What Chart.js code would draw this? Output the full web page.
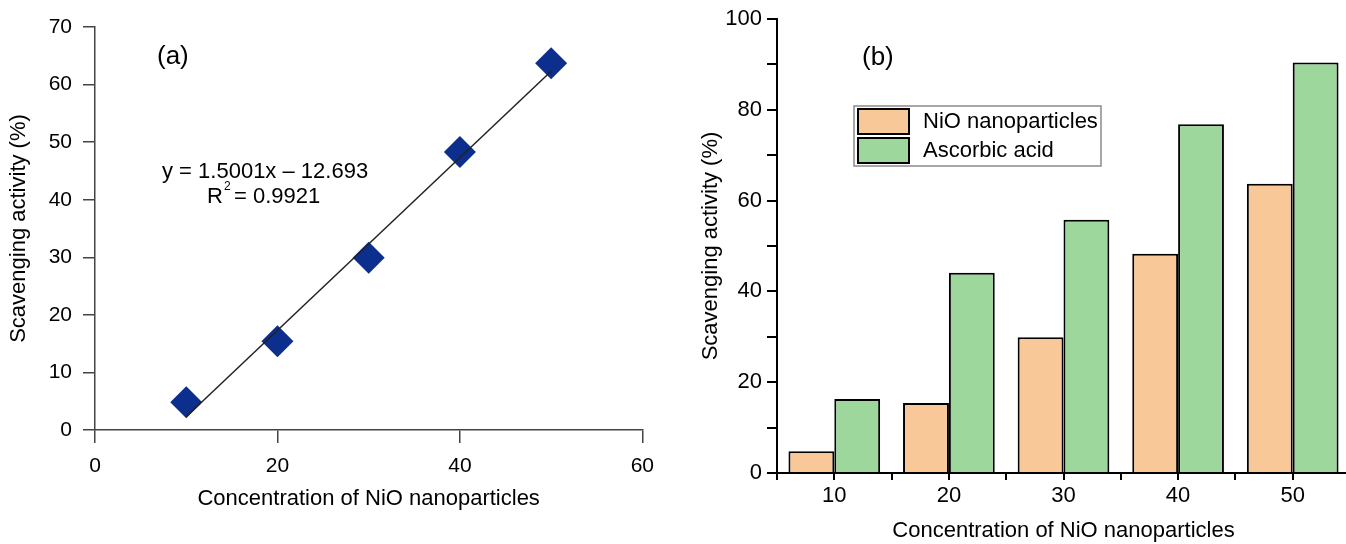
<!DOCTYPE html>
<html>
<head>
<meta charset="utf-8">
<script src="https://cdn.jsdelivr.net/npm/chart.js@4.4.1/dist/chart.umd.min.js"></script>
<style>
  body { margin: 0; background: #fff; overflow: hidden; }
  canvas { position: absolute; top: 0; }
  #chartA { left: 0; }
  #chartB { left: 665px; }
</style>
</head>
<body>
<canvas id="chartA" width="665" height="544"></canvas>
<canvas id="chartB" width="685" height="544"></canvas>
<script>
// concentrations of NiO nanoparticles
const conc = [10, 20, 30, 40, 50];
const concLabels = ["10", "20", "30", "40", "50"];
// scavenging activity (%)
const nioActivity = [4.8, 15.4, 29.9, 48.3, 63.7];
const ascorbicActivity = [16.3, 44.1, 55.8, 76.8, 90.4];
// trend line end points (from the printed fit)
const fitX = [10, 50];
const fitY = [2.3, 62.3];

const FONT = "'Liberation Sans', Arial, Helvetica, sans-serif";
Chart.defaults.font.family = FONT;
Chart.defaults.color = "#000";

// ---------- (a) scatter with linear fit ----------
const annotateA = {
  id: "annotateA",
  afterDraw(chart) {
    const ctx = chart.ctx;
    ctx.save();
    ctx.fillStyle = "#000";
    ctx.textBaseline = "middle";
    ctx.font = "26px " + FONT;
    ctx.fillText("(a)", 157, 57);
    ctx.font = "22px " + FONT;
    ctx.textAlign = "left";
    ctx.fillText("y = 1.5001x \u2013 12.693", 162, 172);
    ctx.fillText("R", 207, 197);
    const rw = ctx.measureText("R").width;
    ctx.font = "12px " + FONT;
    ctx.fillText("2", 207 + rw + 1, 187);
    ctx.font = "22px " + FONT;
    ctx.fillText(" = 0.9921", 207 + rw + 5, 197);
    ctx.restore();
  }
};

new Chart(document.getElementById("chartA"), {
  type: "scatter",
  data: {
    datasets: [
      {
        type: "line",
        data: fitX.map((x, i) => ({ x: x, y: fitY[i] })),
        borderColor: "#222",
        borderWidth: 1.5,
        pointRadius: 0,
        order: 0
      },
      {
        data: conc.map((x, i) => ({ x: x, y: nioActivity[i] })),
        pointStyle: "rectRot",
        pointRadius: 16,
        backgroundColor: "#0c2e8c",
        borderColor: "#0c2e8c",
        borderWidth: 0,
        order: 1
      }
    ]
  },
  options: {
    responsive: false,
    animation: false,
    devicePixelRatio: 1,
    layout: { padding: { left: 0, right: 22, top: 27, bottom: 0 } },
    plugins: { legend: { display: false }, tooltip: { enabled: false } },
    scales: {
      x: {
        type: "linear",
        min: 0,
        max: 60,
        ticks: { stepSize: 20, padding: 11, font: { size: 21 } },
        grid: { drawOnChartArea: false, tickLength: 13, tickColor: "#444", lineWidth: 1.5 },
        border: { color: "#444", width: 1.5 },
        title: { display: true, text: "Concentration of NiO nanoparticles", font: { size: 22 }, padding: { top: 0, bottom: 32 } },
        afterFit: (s) => { s.height = 114; }
      },
      y: {
        min: 0,
        max: 70,
        ticks: { stepSize: 10, padding: 11, font: { size: 21 } },
        grid: { drawOnChartArea: false, tickLength: 12, tickColor: "#444", lineWidth: 1.5 },
        border: { color: "#444", width: 1.5 },
        title: { display: true, text: "Scavenging activity (%)", font: { size: 22 }, padding: { top: 6, bottom: 0 } },
        afterFit: (s) => { s.width = 95; }
      }
    }
  },
  plugins: [annotateA]
});

// ---------- (b) grouped bars ----------
const extrasB = {
  id: "extrasB",
  afterDraw(chart) {
    const ctx = chart.ctx;
    const xs = chart.scales.x;
    const base = chart.chartArea.bottom;
    ctx.save();
    // tick marks under each category centre
    ctx.strokeStyle = "#000";
    ctx.lineWidth = 2;
    concLabels.forEach((_, i) => {
      const px = Math.round(xs.getPixelForValue(i));
      ctx.beginPath();
      ctx.moveTo(px, base);
      ctx.lineTo(px, base + 7);
      ctx.stroke();
    });
    ctx.fillStyle = "#000";
    ctx.textBaseline = "middle";
    ctx.font = "26px " + FONT;
    ctx.fillText("(b)", 197, 58);

    // legend box
    const lx = 189, ly = 106, lw = 247, lh = 60;
    ctx.fillStyle = "#fff";
    ctx.fillRect(lx, ly, lw, lh);
    ctx.strokeStyle = "#8a8a8a";
    ctx.lineWidth = 1.5;
    ctx.strokeRect(lx, ly, lw, lh);
    ctx.font = "22px " + FONT;
    chart.data.datasets.forEach((ds, i) => {
      const sy = ly + 3 + i * 29;
      ctx.fillStyle = ds.backgroundColor;
      ctx.fillRect(lx + 4, sy, 51, 25);
      ctx.strokeStyle = "#000";
      ctx.lineWidth = 2;
      ctx.strokeRect(lx + 4, sy, 51, 25);
      ctx.fillStyle = "#000";
      ctx.fillText(ds.label, lx + 69, sy + 13);
    });
    ctx.restore();
  }
};

new Chart(document.getElementById("chartB"), {
  type: "bar",
  data: {
    labels: concLabels,
    datasets: [
      {
        label: "NiO nanoparticles",
        data: nioActivity,
        backgroundColor: "#f9c898",
        borderColor: "#000",
        borderWidth: 2,
        borderSkipped: "bottom"
      },
      {
        label: "Ascorbic acid",
        data: ascorbicActivity,
        backgroundColor: "#9ed79c",
        borderColor: "#000",
        borderWidth: 2,
        borderSkipped: "bottom"
      }
    ]
  },
  options: {
    responsive: false,
    animation: false,
    devicePixelRatio: 1,
    barPercentage: 1,
    categoryPercentage: 0.8,
    layout: { padding: { left: 0, right: 0, top: 19, bottom: 0 } },
    plugins: { legend: { display: false }, tooltip: { enabled: false } },
    scales: {
      x: {
        ticks: { padding: 3, font: { size: 22 } },
        grid: { drawOnChartArea: false, offset: true, tickLength: 7, tickColor: "#000", lineWidth: 2 },
        border: { color: "#000", width: 2 },
        title: { display: true, text: "Concentration of NiO nanoparticles", font: { size: 22 }, padding: { top: 0, bottom: 0 } },
        afterFit: (s) => { s.height = 71; }
      },
      y: {
        min: 0,
        max: 100,
        ticks: {
          stepSize: 10,
          padding: 5,
          font: { size: 22 },
          callback: (v) => (v % 20 === 0 ? v : "")
        },
        grid: { drawOnChartArea: false, tickLength: 10, tickColor: "#000", lineWidth: 2 },
        border: { color: "#000", width: 2 },
        title: { display: true, text: "Scavenging activity (%)", font: { size: 22 }, padding: { top: 33, bottom: 0 } },
        afterFit: (s) => { s.width = 112; }
      }
    }
  },
  plugins: [extrasB]
});
</script>
</body>
</html>
